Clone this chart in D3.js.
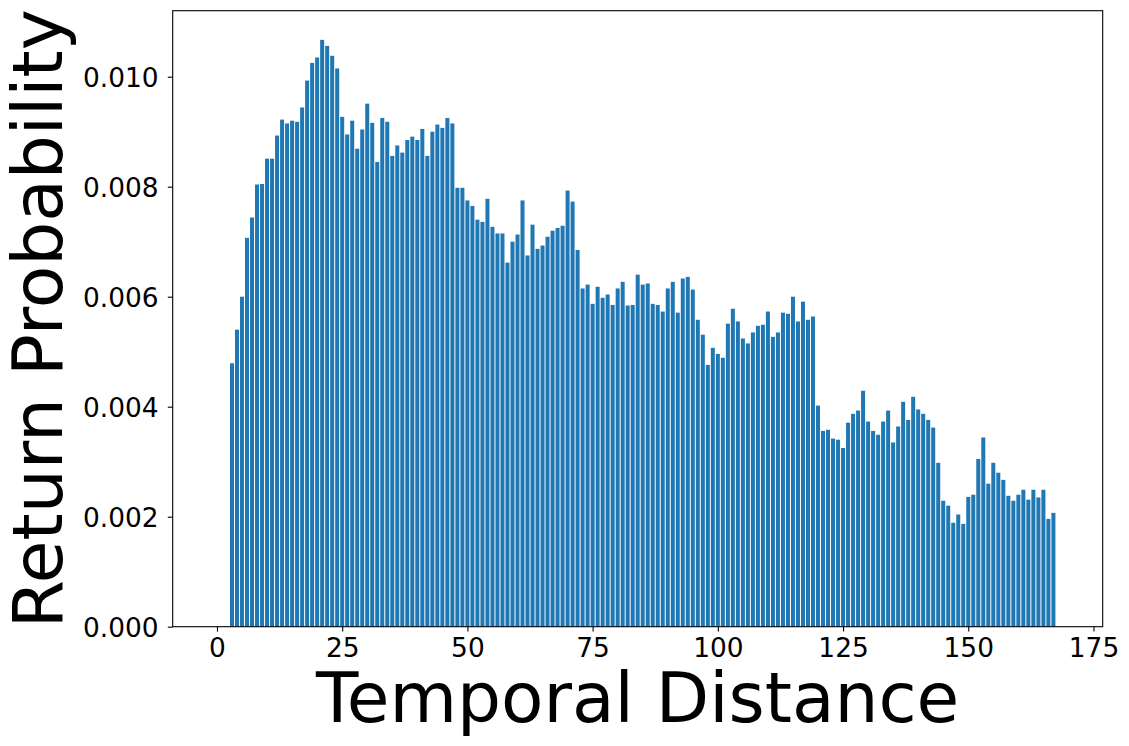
<!DOCTYPE html>
<html>
<head>
<meta charset="utf-8">
<script src="https://cdn.jsdelivr.net/npm/d3@7"></script>
<style>
  body { margin: 0; background: #fff; }
  text { font-family: "DejaVu Sans", sans-serif; }
</style>
</head>
<body>
<script>
var width = 1129;
var height = 746;

// temporal distances 3..167 and their return probabilities
var distances = d3.range(3, 168);
var probs = [
  0.00479, 0.0054, 0.0060, 0.00707, 0.00744, 0.00804, 0.00805, 0.00851, 0.00851, 0.00893,
  0.00922, 0.00915, 0.0092, 0.00918, 0.00944, 0.00993, 0.01025, 0.01035, 0.01067, 0.01056,
  0.01038, 0.01015, 0.00927, 0.00895, 0.0092, 0.00869, 0.00904, 0.00951, 0.00916, 0.00845,
  0.00925, 0.00918, 0.00856, 0.00875, 0.00862, 0.00885, 0.00891, 0.00885, 0.00905, 0.00856,
  0.009, 0.00913, 0.00907, 0.00925, 0.00915, 0.00798, 0.00798, 0.00775, 0.00765, 0.0074,
  0.00736, 0.00778, 0.00727, 0.00715, 0.00715, 0.00662, 0.007, 0.00713, 0.00775, 0.00675,
  0.00731, 0.00687, 0.00693, 0.00709, 0.0072, 0.00725, 0.00729, 0.00793, 0.00773, 0.00685,
  0.00615, 0.00622, 0.00587, 0.00618, 0.00598, 0.00604, 0.00585, 0.00615, 0.00627, 0.00584,
  0.00585, 0.0064, 0.00622, 0.00624, 0.00587, 0.00585, 0.00573, 0.00615, 0.00627, 0.00571,
  0.00633, 0.00636, 0.00613, 0.00558, 0.00531, 0.00476, 0.00507, 0.00496, 0.00489, 0.00551,
  0.00578, 0.00555, 0.00524, 0.00515, 0.00535, 0.00547, 0.00549, 0.00573, 0.00527, 0.00535,
  0.00571, 0.00569, 0.0060, 0.00555, 0.00591, 0.00558, 0.00564, 0.00402, 0.00356, 0.00358,
  0.00342, 0.0034, 0.00325, 0.00371, 0.00387, 0.00393, 0.00429, 0.00373, 0.00356, 0.00349,
  0.00373, 0.00393, 0.00335, 0.00364, 0.00409, 0.00376, 0.00418, 0.00395, 0.00387, 0.00376,
  0.00362, 0.00298, 0.00229, 0.0022, 0.00189, 0.00204, 0.00187, 0.00236, 0.0024, 0.00305,
  0.00344, 0.0026, 0.00298, 0.0028, 0.00267, 0.00238, 0.00229, 0.0024, 0.00249, 0.00231,
  0.00249, 0.00235, 0.00249, 0.00196, 0.00207
];
var xTicks = [0, 25, 50, 75, 100, 125, 150, 175];
var yTicks = [0, 0.002, 0.004, 0.006, 0.008, 0.010];

var data = distances.map((d, i) => ({dist: d, p: probs[i]}));

var margin = {left: 172.7, right: 1129 - 1102.7, top: 10.7, bottom: 746 - 626.7};
var plotW = width - margin.left - margin.right;
var plotH = height - margin.top - margin.bottom;

var svg = d3.select('body').append('svg')
    .attr('width', width)
    .attr('height', height)

var g = svg.append('g')
    .attr('transform', 'translate(' + margin.left + ',' + margin.top + ')')

var x = d3.scaleLinear().domain([-8.84, 176.84]).range([0, plotW])
var y = d3.scaleLinear().domain([0, 0.0112]).range([plotH, 0])
var barW = x(0.8) - x(0)

g.selectAll('rect.bar')
    .data(data).enter()
    .append('rect')
        .attr('class', 'bar')
        .attr('x', d => x(d.dist - 0.4))
        .attr('width', barW)
        .attr('y', d => y(d.p))
        .attr('height', d => y(0) - y(d.p))
        .attr('fill', '#1f77b4')

var xAxis = g.append('g')
    .attr('transform', 'translate(0,' + plotH + ')')
    .call(d3.axisBottom(x).tickValues(xTicks).tickFormat(d3.format('d')).tickSize(4.9).tickPadding(6.7))
var yAxis = g.append('g')
    .call(d3.axisLeft(y).tickValues(yTicks).tickFormat(d3.format('.3f')).tickSize(4.9).tickPadding(9.3))

g.selectAll('.domain').remove()
g.selectAll('.tick line').attr('stroke', '#000').attr('stroke-width', 1.1)
g.selectAll('.tick text')
    .attr('fill', '#000')
    .style('font-size', '26.4px')
    .style('font-family', '"DejaVu Sans", sans-serif')
yAxis.selectAll('.tick text').attr('dy', '0.36em')

g.append('rect')
    .attr('width', plotW)
    .attr('height', plotH)
    .attr('fill', 'none')
    .attr('stroke', '#000')
    .attr('stroke-width', 1.1)

svg.append('text')
    .attr('x', margin.left + plotW / 2)
    .attr('y', 722)
    .attr('text-anchor', 'middle')
    .style('font-size', '69.4px')
    .text('Temporal Distance')

svg.append('text')
    .attr('transform', 'translate(62,' + (margin.top + plotH / 2) + ') rotate(-90)')
    .attr('text-anchor', 'middle')
    .style('font-size', '69.4px')
    .text('Return Probability')
</script>
</body>
</html>
